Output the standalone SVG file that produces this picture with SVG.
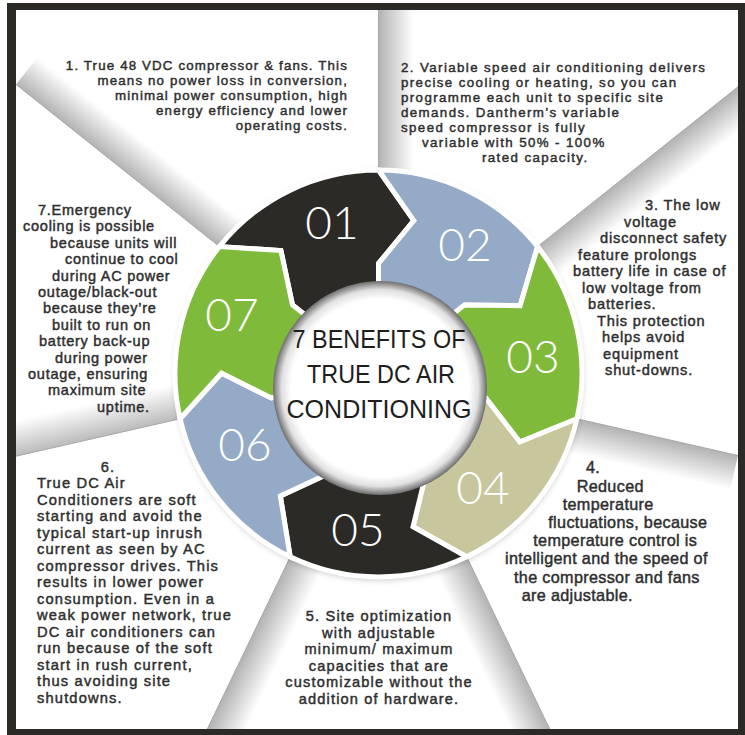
<svg xmlns="http://www.w3.org/2000/svg" width="745" height="735" viewBox="0 0 745 735">
<defs>
<style>
.t{font-family:"Liberation Sans",Arial,sans-serif;fill:#2e2e2e;stroke:#2e2e2e;stroke-width:0.45}
.num{font-family:"Lato","Open Sans","Liberation Sans",sans-serif;font-weight:300;fill:#ffffff;font-size:46px;text-anchor:middle}
.title{font-family:"Liberation Sans",Arial,sans-serif;fill:#1e1e1e;font-size:26px;text-anchor:middle}
.seg{stroke:#ffffff;stroke-width:5;stroke-linejoin:miter}
.blk{fill:#2b2a26}.blu{fill:#95aac7}.grn{fill:#7fba3a}.kha{fill:#c7c69d}
.div{stroke:#a8a8a8;stroke-width:1;fill:none}
</style>
<radialGradient id="hubg" cx="0.5" cy="0.5" r="0.5">
<stop offset="0" stop-color="#ffffff"/>
<stop offset="0.83" stop-color="#ffffff"/>
<stop offset="0.92" stop-color="#e0e0e0"/>
<stop offset="0.98" stop-color="#8a8a8a"/>
<stop offset="1" stop-color="#6c6c6c"/>
</radialGradient>
<linearGradient id="s0" gradientUnits="userSpaceOnUse" x1="378.5" y1="170" x2="413.5" y2="170"><stop offset="0" stop-color="#555" stop-opacity="0.45"/><stop offset="1" stop-color="#555" stop-opacity="0"/></linearGradient>
<linearGradient id="s1" gradientUnits="userSpaceOnUse" x1="537.6" y1="246.6" x2="559.4" y2="274"><stop offset="0" stop-color="#555" stop-opacity="0.45"/><stop offset="1" stop-color="#555" stop-opacity="0"/></linearGradient>
<linearGradient id="s2" gradientUnits="userSpaceOnUse" x1="576.9" y1="418.8" x2="569.1" y2="452.9"><stop offset="0" stop-color="#555" stop-opacity="0.45"/><stop offset="1" stop-color="#555" stop-opacity="0"/></linearGradient>
<linearGradient id="s3" gradientUnits="userSpaceOnUse" x1="466.8" y1="556.9" x2="435.3" y2="572.0"><stop offset="0" stop-color="#555" stop-opacity="0.45"/><stop offset="1" stop-color="#555" stop-opacity="0"/></linearGradient>
<linearGradient id="s4" gradientUnits="userSpaceOnUse" x1="290.2" y1="556.9" x2="321.7" y2="572.0"><stop offset="0" stop-color="#555" stop-opacity="0.45"/><stop offset="1" stop-color="#555" stop-opacity="0"/></linearGradient>
<linearGradient id="s5" gradientUnits="userSpaceOnUse" x1="180.1" y1="418.8" x2="172.3" y2="384.7"><stop offset="0" stop-color="#555" stop-opacity="0.4"/><stop offset="1" stop-color="#555" stop-opacity="0"/></linearGradient>
<linearGradient id="s6" gradientUnits="userSpaceOnUse" x1="219.4" y1="246.6" x2="241.2" y2="219.2"><stop offset="0" stop-color="#555" stop-opacity="0.45"/><stop offset="1" stop-color="#555" stop-opacity="0"/></linearGradient>
<filter id="blur" x="-20%" y="-20%" width="140%" height="140%"><feGaussianBlur stdDeviation="3"/></filter>
</defs>

<g id="frame">
<rect x="7" y="3" width="738" height="732" fill="#2b2a26"/>
<rect x="16" y="10" width="722" height="719" fill="#ffffff"/>
</g>

<g id="dividers">
<polygon points="378.5,170 378.5,10 413.5,10 413.5,170" fill="url(#s0)"/>
<polygon points="537.6,246.6 738,86.8 759.8,114.2 559.4,274" fill="url(#s1)"/>
<polygon points="576.9,418.8 738,455.5 730.2,489.6 569.1,452.9" fill="url(#s2)"/>
<polygon points="466.8,556.9 549.7,729 518.2,744.2 435.3,572" fill="url(#s3)"/>
<polygon points="290.2,556.9 207.3,729 238.8,744.2 321.7,572" fill="url(#s4)"/>
<polygon points="180.1,418.8 16,456.2 8.2,422.1 172.3,384.7" fill="url(#s5)"/>
<polygon points="219.4,246.6 16,84.4 37.8,57 241.2,219.2" fill="url(#s6)"/>
<line class="div" x1="378.5" y1="170" x2="378.5" y2="10"/>
<line class="div" x1="537.6" y1="246.6" x2="738" y2="86.8"/>
<line class="div" x1="576.9" y1="418.8" x2="738" y2="455.5"/>
<line class="div" x1="466.8" y1="556.9" x2="549.7" y2="729"/>
<line class="div" x1="290.2" y1="556.9" x2="207.3" y2="729"/>
<line class="div" x1="180.1" y1="418.8" x2="16" y2="456.2"/>
<line class="div" x1="219.4" y1="246.6" x2="16" y2="84.4"/>
</g>
<g id="frame-edges" fill="#2b2a26">
<rect x="7" y="729" width="738" height="6"/>
<rect x="738" y="3" width="7" height="732"/>
<rect x="7" y="3" width="9" height="732"/>
</g>

<circle cx="379" cy="376" r="204" fill="#000" opacity="0.22" filter="url(#blur)"/>

<g id="seg01">
<path class="seg blk" d="M219.40 246.62 A203.5 203.5 0 0 1 378.5 170 L413.82 220.52 L378.5 263.5 L378.5 313.5 A60 60 0 0 0 331.59 336.09 L292.50 304.92 L280.91 250.52 Z"/>
<text class="num" x="332" y="239">01</text>
</g>
<g id="seg02">
<path class="seg blu" d="M378.5 170 A203.5 203.5 0 0 1 537.60 246.62 L520.12 305.73 L464.50 304.92 L425.41 336.09 A60 60 0 0 0 378.5 313.5 L378.5 263.5 L413.82 220.52 Z"/>
<text class="num" x="465" y="261">02</text>
</g>
<g id="seg03">
<path class="seg grn" d="M537.60 246.62 A203.5 203.5 0 0 1 576.90 418.78 L519.78 441.97 L485.74 397.98 L437.00 386.85 A60 60 0 0 0 425.41 336.09 L464.50 304.92 L520.12 305.73 Z"/>
<text class="num" x="533" y="373">03</text>
</g>
<g id="seg04">
<path class="seg kha" d="M576.90 418.78 A203.5 203.5 0 0 1 466.79 556.85 L413.05 526.65 L426.23 472.61 L404.53 427.56 A60 60 0 0 0 437.00 386.85 L485.74 397.98 L519.78 441.97 Z"/>
<text class="num" x="483" y="504">04</text>
</g>
<g id="seg05">
<path class="seg blk" d="M466.79 556.85 A203.5 203.5 0 0 1 290.21 556.85 L280.34 496.03 L330.77 472.61 L352.47 427.56 A60 60 0 0 0 404.53 427.56 L426.23 472.61 L413.05 526.65 Z"/>
<text class="num" x="358" y="546">05</text>
</g>
<g id="seg06">
<path class="seg blu" d="M290.21 556.85 A203.5 203.5 0 0 1 180.10 418.78 L221.50 373.11 L271.26 397.98 L320.00 386.85 A60 60 0 0 0 352.47 427.56 L330.77 472.61 L280.34 496.03 Z"/>
<text class="num" x="245" y="461">06</text>
</g>
<g id="seg07">
<path class="seg grn" d="M180.10 418.78 A203.5 203.5 0 0 1 219.40 246.62 L280.91 250.52 L292.50 304.92 L331.59 336.09 A60 60 0 0 0 320.00 386.85 L271.26 397.98 L221.50 373.11 Z"/>
<text class="num" x="232" y="331">07</text>
</g>

<g id="hub">
<circle cx="380" cy="388" r="107" fill="url(#hubg)"/>
<text class="title" x="379" y="348" textLength="173" lengthAdjust="spacingAndGlyphs">7 BENEFITS OF</text>
<text class="title" x="381" y="383" textLength="148" lengthAdjust="spacingAndGlyphs">TRUE DC AIR</text>
<text class="title" x="379" y="418" textLength="185" lengthAdjust="spacingAndGlyphs">CONDITIONING</text>
</g>

<g id="benefit1" class="t" text-anchor="end" style="font-size:13.3px;letter-spacing:1.15px">
<text x="348" y="69.5">1. True 48 VDC compressor &amp; fans. This</text>
<text x="348" y="84.5">means no power loss in conversion,</text>
<text x="348" y="99.5">minimal power consumption, high</text>
<text x="348" y="114.5">energy efficiency and lower</text>
<text x="348" y="129.5">operating costs.</text>
</g>

<g id="benefit2" class="t" style="font-size:13.3px;letter-spacing:1.4px">
<text x="401" y="72">2. Variable speed air conditioning delivers</text>
<text x="401" y="87">precise cooling or heating, so you can</text>
<text x="401" y="102">programme each unit to specific site</text>
<text x="401" y="117">demands. Dantherm’s variable</text>
<text x="401" y="132">speed compressor is fully</text>
<text x="422" y="147">variable with 50% - 100%</text>
<text x="482" y="162">rated capacity.</text>
</g>

<g id="benefit3" class="t" style="font-size:14.6px;letter-spacing:0.85px">
<text x="645" y="210">3. The low</text>
<text x="624" y="226.5">voltage</text>
<text x="600" y="243">disconnect safety</text>
<text x="578" y="259.5">feature prolongs</text>
<text x="573" y="276">battery life in case of</text>
<text x="582" y="292.5">low voltage from</text>
<text x="588" y="309">batteries.</text>
<text x="597" y="325.5">This protection</text>
<text x="602" y="342">helps avoid</text>
<text x="603" y="358.5">equipment</text>
<text x="605" y="375">shut-downs.</text>
</g>

<g id="benefit4" class="t" style="font-size:16.2px;letter-spacing:0.33px">
<text x="586" y="473.3">4.</text>
<text x="576.7" y="491.5">Reduced</text>
<text x="562.7" y="509.7">temperature</text>
<text x="548.3" y="527.9">fluctuations, because</text>
<text x="533.3" y="546.1">temperature control is</text>
<text x="505" y="564.3">intelligent and the speed of</text>
<text x="514" y="582.5">the compressor and fans</text>
<text x="521.7" y="600.7">are adjustable.</text>
</g>

<g id="benefit5" class="t" text-anchor="middle" style="font-size:14.6px;letter-spacing:1.15px">
<text x="379" y="621">5. Site optimization</text>
<text x="379" y="637.5">with adjustable</text>
<text x="379" y="654">minimum/ maximum</text>
<text x="379" y="670.5">capacities that are</text>
<text x="379" y="687">customizable without the</text>
<text x="379" y="703.5">addition of hardware.</text>
</g>

<g id="benefit6" class="t" style="font-size:14.7px;letter-spacing:1.15px" xml:space="preserve">
<text x="108" y="471.7" text-anchor="middle">6.</text>
<text x="37" y="488.3">True DC Air</text>
<text x="37" y="504.8">Conditioners are soft</text>
<text x="37" y="521.3">starting and avoid the</text>
<text x="37" y="537.8">typical start-up inrush</text>
<text x="37" y="554.3">current as seen by AC</text>
<text x="37" y="570.8">compressor drives.  This</text>
<text x="37" y="587.3">results in lower power</text>
<text x="37" y="603.8">consumption.  Even in a</text>
<text x="37" y="620.3">weak power network, true</text>
<text x="37" y="636.8">DC air conditioners can</text>
<text x="37" y="653.3">run because of the soft</text>
<text x="37" y="669.8">start in rush current,</text>
<text x="37" y="686.3">thus avoiding site</text>
<text x="37" y="702.8">shutdowns.</text>
</g>

<g id="benefit7" class="t" style="font-size:14.5px;letter-spacing:0.75px">
<text x="38" y="215">7.Emergency</text>
<text x="23" y="231.4">cooling is possible</text>
<text x="50" y="247.8">because units will</text>
<text x="65" y="264.2">continue to cool</text>
<text x="52" y="280.6">during AC power</text>
<text x="38" y="297">outage/black-out</text>
<text x="43" y="313.4">because they’re</text>
<text x="52" y="329.8">built to run on</text>
<text x="39" y="346.2">battery back-up</text>
<text x="55" y="362.6">during power</text>
<text x="28" y="379">outage, ensuring</text>
<text x="48" y="395.4">maximum site</text>
<text x="97" y="411.8">uptime.</text>
</g>
</svg>
